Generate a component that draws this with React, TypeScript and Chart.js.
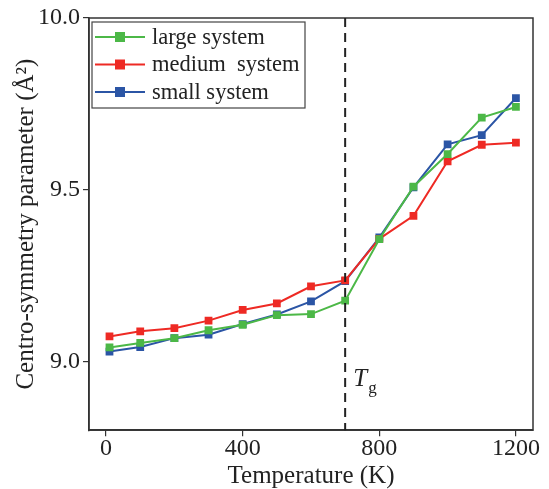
import React, { useEffect, useRef } from "react";
import { Chart, registerables } from "chart.js";

Chart.register(...registerables);

const temperatures = [10, 100, 200, 300, 400, 500, 600, 700, 800, 900, 1000, 1100, 1200];
const largeSystem = [9.041, 9.054, 9.068, 9.091, 9.107, 9.135, 9.138, 9.177, 9.356, 9.509, 9.604, 9.71, 9.741];
const mediumSystem = [9.073, 9.088, 9.097, 9.119, 9.15, 9.169, 9.219, 9.236, 9.357, 9.424, 9.583, 9.631, 9.637];
const smallSystem = [9.029, 9.042, 9.068, 9.078, 9.109, 9.137, 9.175, 9.234, 9.361, 9.507, 9.632, 9.659, 9.767];
const xTicks = [0, 400, 800, 1200];
const yTicks = [9.0, 9.5, 10.0];
const seriesNames = ["large system", "medium  system", "small system"];
const seriesColors = ["#4cb847", "#ee2a24", "#2b55a5"];
const glassTemperature = 700;

const FONT = "'Liberation Serif', 'DejaVu Serif', serif";

const framePlugin = {
  id: "frameAndExtras",
  afterDraw(chart: any) {
    const { ctx, chartArea, scales } = chart;
    const { left, right, top, bottom } = chartArea;
    ctx.save();
    ctx.strokeStyle = "#333";
    ctx.lineWidth = 1.5;
    ctx.strokeRect(left, top, right - left, bottom - top);
    const xp = scales.x.getPixelForValue(glassTemperature);
    ctx.strokeStyle = "#222";
    ctx.lineWidth = 2;
    ctx.setLineDash([9, 6]);
    ctx.beginPath();
    ctx.moveTo(xp, top);
    ctx.lineTo(xp, bottom);
    ctx.stroke();
    ctx.setLineDash([]);
    ctx.fillStyle = "#222";
    ctx.textBaseline = "alphabetic";
    ctx.textAlign = "left";
    ctx.font = `italic 25px ${FONT}`;
    const ty = scales.y.getPixelForValue(8.93);
    ctx.fillText("T", xp + 8, ty);
    ctx.font = `17px ${FONT}`;
    ctx.fillText("g", xp + 23, ty + 7);
    const lx = left + 3;
    const ly = top + 4;
    const lw = 213;
    const lh = 86;
    ctx.fillStyle = "#fff";
    ctx.fillRect(lx, ly, lw, lh);
    ctx.strokeStyle = "#444";
    ctx.lineWidth = 1.2;
    ctx.strokeRect(lx, ly, lw, lh);
    seriesNames.forEach((name, i) => {
      const cy = ly + 15 + i * 27.5;
      ctx.strokeStyle = seriesColors[i];
      ctx.lineWidth = 2;
      ctx.beginPath();
      ctx.moveTo(lx + 3, cy);
      ctx.lineTo(lx + 53, cy);
      ctx.stroke();
      ctx.fillStyle = seriesColors[i];
      ctx.fillRect(lx + 28 - 5, cy - 5, 10, 10);
      ctx.fillStyle = "#222";
      ctx.font = `22.5px ${FONT}`;
      ctx.textBaseline = "middle";
      ctx.fillText(name, lx + 60, cy + 1);
    });
    ctx.restore();
  },
};

export default function App() {
  const canvasRef = useRef<HTMLCanvasElement | null>(null);

  useEffect(() => {
    document.body.style.margin = "0";
    const canvas = canvasRef.current;
    if (!canvas) return;
    const datasets = [largeSystem, mediumSystem, smallSystem].map((vals, i) => ({
      label: seriesNames[i],
      data: temperatures.map((t, j) => ({ x: t, y: vals[j] })),
      borderColor: seriesColors[i],
      backgroundColor: seriesColors[i],
      borderWidth: 2,
      pointStyle: "rect" as const,
      pointRadius: 5.5,
      pointBorderWidth: 0,
      tension: 0,
    }));
    const chart = new Chart(canvas, {
      type: "line",
      data: { datasets },
      options: {
        animation: false,
        responsive: false,
        maintainAspectRatio: false,
        layout: { padding: { top: 18, right: 16, left: 11, bottom: 0 } },
        plugins: { legend: { display: false }, tooltip: { enabled: false } },
        scales: {
          x: {
            type: "linear",
            min: -50,
            max: 1250,
            afterBuildTicks: (axis: any) => {
              axis.ticks = xTicks.map((v) => ({ value: v }));
            },
            grid: { display: true, drawOnChartArea: false, drawTicks: true, tickLength: 6, color: "#333", lineWidth: 1.2 },
            border: { display: true, color: "#333", width: 1.5 },
            ticks: {
              color: "#222",
              font: { family: FONT, size: 24 },
              padding: -2,
              maxRotation: 0,
              callback: (v: any) => String(v),
            },
            title: { display: true, text: "Temperature (K)", color: "#222", font: { family: FONT, size: 25 }, padding: { top: 0, bottom: -2 } },
          },
          y: {
            type: "linear",
            min: 8.8,
            max: 10.0,
            afterBuildTicks: (axis: any) => {
              axis.ticks = yTicks.map((v) => ({ value: v }));
            },
            grid: { display: true, drawOnChartArea: false, drawTicks: true, tickLength: 6, color: "#333", lineWidth: 1.2 },
            border: { display: true, color: "#333", width: 1.5 },
            ticks: {
              color: "#222",
              font: { family: FONT, size: 24 },
              padding: 3,
              callback: (v: any) => Number(v).toFixed(1),
            },
            title: { display: true, text: "Centro-symmetry parameter (Å²)", color: "#222", font: { family: FONT, size: 25 }, padding: { top: 0, bottom: -6 } },
          },
        },
      },
      plugins: [framePlugin],
    });
    return () => chart.destroy();
  }, []);

  return (
    <div style={{ width: 549, height: 489 }}>
      <canvas ref={canvasRef} width={549} height={489} style={{ width: 549, height: 489 }} />
    </div>
  );
}
